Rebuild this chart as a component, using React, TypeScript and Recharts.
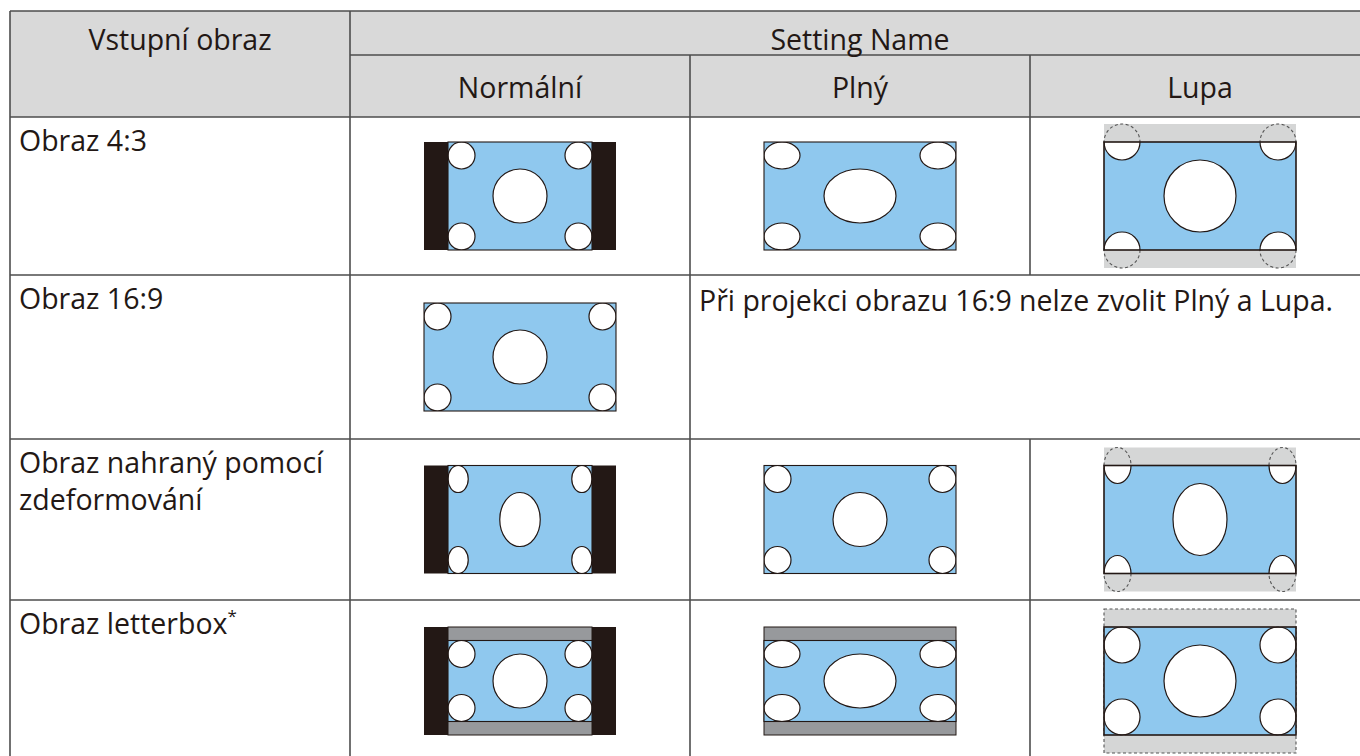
import React from 'react';
import { ScatterChart, Scatter, XAxis, YAxis, ReferenceArea, ReferenceLine } from 'recharts';

// ---------------- data ----------------
const cornerHeader = 'Vstupní obraz';
const groupHeader = 'Setting Name';
const settingNames = ['Normální', 'Plný', 'Lupa'];
const settingModes = ['normal', 'full', 'zoom'];
const inputLabels = [['Obraz 4:3'], ['Obraz 16:9'], ['Obraz nahraný pomocí', 'zdeformování'], ['Obraz letterbox']];
const inputFootnotes = ['', '', '', '*'];
const inputSources = ['4:3', '16:9', 'squeeze', 'letterbox'];
const availableModes = [
  [true, true, true],
  [true, false, false],
  [true, true, true],
  [true, true, true],
];
const unavailableNotes = ['', 'Při projekci obrazu 16:9 nelze zvolit Plný a Lupa.', '', ''];

// ---------------- layout / style ----------------
const CHART_W = 1360;
const CHART_H = 756;
const TABLE_LEFT = 10;
const COL_W = 340;
const ROW_EDGES = [11, 55, 117, 275, 439, 600, 762];
const X_DOMAIN: [number, number] = [-TABLE_LEFT / COL_W, (CHART_W - TABLE_LEFT) / COL_W];
const pxToCol = (px: number) => (px - TABLE_LEFT) / COL_W;

const INK = '#231815';
const LINE = '#4d4d4d';
const HEADER_BG = '#d9d9d9';
const BLUE = '#8fc8ee';
const BAR = '#231815';
const BAND = '#97999c';
const OUTSIDE = '#d5d6d6';
const FONT = "'Open Sans', 'Noto Sans', sans-serif";
const FONT_SIZE = 28.5;
const LINE_H = 37;

const SCREEN_W = 192;
const SCREEN_H = 108;

type Ell = { u: number; v: number; rx: number; ry: number };
function ellipseSet(cRx: number, cRy: number, mRx: number, mRy: number, v0: number, v1: number): Ell[] {
  return [
    { u: cRx, v: v0 + cRy, rx: cRx, ry: cRy },
    { u: 1 - cRx, v: v0 + cRy, rx: cRx, ry: cRy },
    { u: cRx, v: v1 - cRy, rx: cRx, ry: cRy },
    { u: 1 - cRx, v: v1 - cRy, rx: cRx, ry: cRy },
    { u: 0.5, v: (v0 + v1) / 2, rx: mRx, ry: mRy },
  ];
}
const SOURCE_GEOMETRY: Record<string, { aspect: number; v0: number; v1: number; ells: Ell[] }> = {
  '4:3': { aspect: 4 / 3, v0: 0, v1: 1, ells: ellipseSet(0.09375, 0.125, 0.1875, 0.25, 0, 1) },
  '16:9': { aspect: 16 / 9, v0: 0, v1: 1, ells: ellipseSet(0.0703, 0.125, 0.1406, 0.25, 0, 1) },
  squeeze: { aspect: 4 / 3, v0: 0, v1: 1, ells: ellipseSet(0.0703, 0.125, 0.1406, 0.25, 0, 1) },
  letterbox: { aspect: 4 / 3, v0: 0.125, v1: 0.875, ells: ellipseSet(0.09375, 0.125, 0.1875, 0.25, 0.125, 0.875) },
};

// ---------------- derived tables ----------------
const rowCenter = (r: number) => (ROW_EDGES[r + 2] + ROW_EDGES[r + 3]) / 2;

const diagramPoints = inputSources.flatMap((source, r) =>
  settingModes
    .map((mode, c) => ({ x: c + 1.5, y: rowCenter(r), source, mode, id: `clip-${r}-${c}`, ok: availableModes[r][c] }))
    .filter((p) => p.ok)
);

const textPoints = [
  { x: 0.5, y: 50, lines: [cornerHeader], anchor: 'middle', sup: '' },
  { x: 2.5, y: 50, lines: [groupHeader], anchor: 'middle', sup: '' },
  ...settingNames.map((n, i) => ({ x: i + 1.5, y: 98, lines: [n], anchor: 'middle', sup: '' })),
  ...inputLabels.map((lines, r) => ({ x: pxToCol(19), y: ROW_EDGES[r + 2] + 34, lines, anchor: 'start', sup: inputFootnotes[r] })),
  ...unavailableNotes
    .map((n, r) => ({ x: 2 + pxToCol(19), y: ROW_EDGES[r + 2] + 36, lines: [n], anchor: 'start', sup: '' }))
    .filter((p) => p.lines[0] !== ''),
];

type Seg = { x1: number; y1: number; x2: number; y2: number };
const segments: Seg[] = [];
// horizontal
segments.push({ x1: 0, y1: ROW_EDGES[0], x2: X_DOMAIN[1], y2: ROW_EDGES[0] });
segments.push({ x1: 1, y1: ROW_EDGES[1], x2: X_DOMAIN[1], y2: ROW_EDGES[1] });
for (let i = 2; i < ROW_EDGES.length - 1; i++) {
  segments.push({ x1: 0, y1: ROW_EDGES[i], x2: X_DOMAIN[1], y2: ROW_EDGES[i] });
}
// vertical
[0, 1].forEach((x) => segments.push({ x1: x, y1: ROW_EDGES[0], x2: x, y2: ROW_EDGES[2] }));
[2, 3].forEach((x) => segments.push({ x1: x, y1: ROW_EDGES[1], x2: x, y2: ROW_EDGES[2] }));
inputSources.forEach((_, r) => {
  const y1 = ROW_EDGES[r + 2];
  const y2 = Math.min(ROW_EDGES[r + 3], CHART_H);
  const merged = unavailableNotes[r] !== '';
  [0, 1, 2, 3].forEach((x) => {
    if (x === 3 && merged) return;
    segments.push({ x1: x, y1, x2: x, y2 });
  });
});

// ---------------- shapes ----------------
const DiagramShape = (props: any) => {
  const { cx, cy, payload } = props;
  if (cx == null || cy == null || !payload) return <g />;
  const src = SOURCE_GEOMETRY[payload.source];
  const mode = payload.mode;
  let fw: number;
  let fh: number;
  if (mode === 'normal') {
    fh = SCREEN_H;
    fw = SCREEN_H * src.aspect;
  } else if (mode === 'full') {
    fw = SCREEN_W;
    fh = SCREEN_H;
  } else {
    fw = SCREEN_W;
    fh = SCREEN_W / src.aspect;
  }
  const fx = cx - fw / 2;
  const fy = cy - fh / 2;
  const sx = cx - SCREEN_W / 2;
  const sy = cy - SCREEN_H / 2;
  const vx0 = Math.max(fx, sx);
  const vx1 = Math.min(fx + fw, sx + SCREEN_W);
  const cy0 = Math.max(fy + src.v0 * fh, sy);
  const cy1 = Math.min(fy + src.v1 * fh, sy + SCREEN_H);
  const fy0 = Math.max(fy, sy);
  const fy1 = Math.min(fy + fh, sy + SCREEN_H);
  const letter = src.v0 > 0;
  const ells = src.ells.map((e) => ({ cx: fx + e.u * fw, cy: fy + e.v * fh, rx: e.rx * fw, ry: e.ry * fh }));
  const id = payload.id;
  return (
    <g>
      <defs>
        <clipPath id={id}>
          <rect x={vx0} y={cy0} width={vx1 - vx0} height={cy1 - cy0} />
        </clipPath>
      </defs>
      {mode === 'normal' && fw < SCREEN_W - 0.5 && (
        <rect x={sx} y={sy} width={SCREEN_W} height={SCREEN_H} fill={BAR} />
      )}
      {mode === 'zoom' && (
        <rect
          x={fx}
          y={fy}
          width={fw}
          height={fh}
          fill={OUTSIDE}
          stroke={letter ? '#555' : 'none'}
          strokeWidth={1.1}
          strokeDasharray="3 2.5"
        />
      )}
      {mode === 'zoom' &&
        ells.map((e, i) => (
          <ellipse key={`d${i}`} cx={e.cx} cy={e.cy} rx={e.rx} ry={e.ry} fill="none" stroke="#555" strokeWidth={1.1} strokeDasharray="3 2.5" />
        ))}
      {letter && mode !== 'zoom' && (
        <rect x={vx0} y={fy0} width={vx1 - vx0} height={fy1 - fy0} fill={BAND} stroke={INK} strokeWidth={1} />
      )}
      <rect x={vx0} y={cy0} width={vx1 - vx0} height={cy1 - cy0} fill={BLUE} />
      <g clipPath={`url(#${id})`}>
        {ells.map((e, i) => (
          <ellipse key={`e${i}`} cx={e.cx} cy={e.cy} rx={e.rx} ry={e.ry} fill="#ffffff" stroke={INK} strokeWidth={1.2} />
        ))}
      </g>
      <rect x={vx0} y={cy0} width={vx1 - vx0} height={cy1 - cy0} fill="none" stroke={INK} strokeWidth={mode === 'zoom' ? 1.6 : 1.1} />
    </g>
  );
};

const TextShape = (props: any) => {
  const { cx, cy, payload } = props;
  if (cx == null || cy == null || !payload) return <g />;
  return (
    <text x={cx} y={cy} textAnchor={payload.anchor} fontFamily={FONT} fontSize={FONT_SIZE} fill={INK}>
      {payload.lines.map((l: string, i: number) => (
        <tspan key={i} x={cx} dy={i === 0 ? 0 : LINE_H}>
          {l}
        </tspan>
      ))}
      {payload.sup ? (
        <tspan dy={-12} fontSize={17}>
          {payload.sup}
        </tspan>
      ) : null}
    </text>
  );
};

export default function App() {
  return (
    <div style={{ position: 'absolute', left: 0, top: 0, width: CHART_W, height: CHART_H, background: '#ffffff' }}>
      <ScatterChart width={CHART_W} height={CHART_H} margin={{ top: 0, right: 0, bottom: 0, left: 0 }}>
        <XAxis type="number" dataKey="x" domain={X_DOMAIN} hide allowDataOverflow />
        <YAxis type="number" dataKey="y" domain={[0, CHART_H]} reversed hide allowDataOverflow />
        <ReferenceArea x1={0} x2={X_DOMAIN[1]} y1={ROW_EDGES[0]} y2={ROW_EDGES[2]} fill={HEADER_BG} fillOpacity={1} stroke="none" ifOverflow="visible" />
        {segments.map((s, i) => (
          <ReferenceLine
            key={i}
            segment={[
              { x: s.x1, y: s.y1 },
              { x: s.x2, y: s.y2 },
            ]}
            stroke={LINE}
            strokeWidth={1.6}
            ifOverflow="visible"
          />
        ))}
        <Scatter data={diagramPoints} shape={DiagramShape} isAnimationActive={false} />
        <Scatter data={textPoints} shape={TextShape} isAnimationActive={false} />
      </ScatterChart>
    </div>
  );
}
